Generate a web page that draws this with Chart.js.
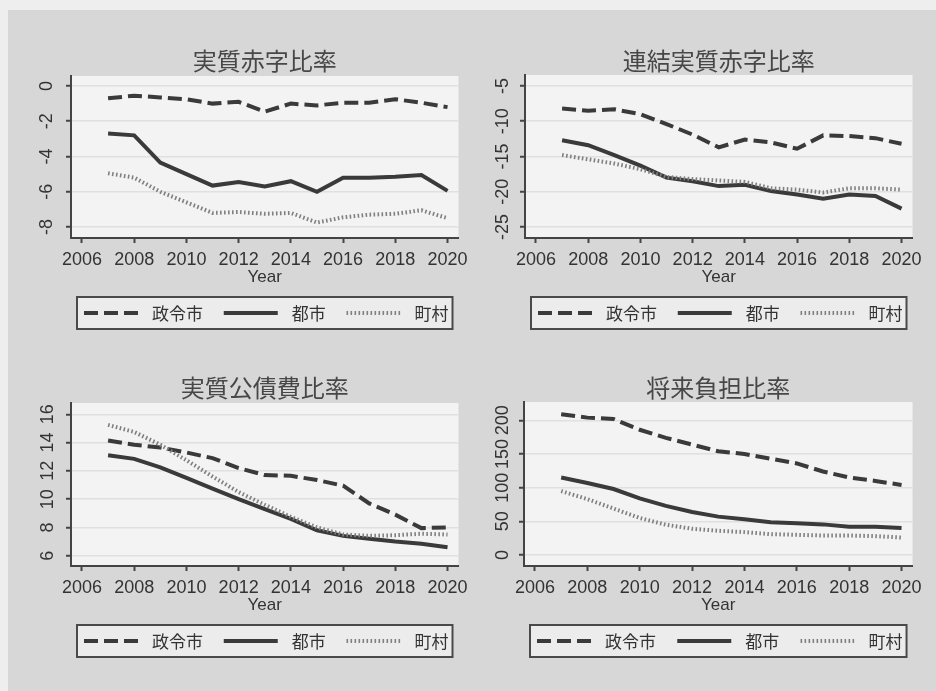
<!DOCTYPE html>
<html>
<head>
<meta charset="utf-8">
<script src="https://cdn.jsdelivr.net/npm/chart.js@4/dist/chart.umd.min.js"></script>
<style>
body{margin:0;width:936px;height:691px;background:#eeeeee;position:relative;overflow:hidden}
#frame{position:absolute;left:8px;top:10px;right:0;bottom:0;background:#d7d7d7}
canvas{position:absolute}
</style>
</head>
<body>
<div id="frame"></div>
<canvas id="c1" width="466" height="320" style="left:8px;top:20px"></canvas>
<canvas id="c2" width="452" height="320" style="left:476px;top:20px"></canvas>
<canvas id="c3" width="466" height="320" style="left:8px;top:345px"></canvas>
<canvas id="c4" width="452" height="320" style="left:476px;top:345px"></canvas>
<script>
const years=[2007,2008,2009,2010,2011,2012,2013,2014,2015,2016,2017,2018,2019,2020];
const xTicks=[2006,2008,2010,2012,2014,2016,2018,2020];
const names=["政令市","都市","町村"];

// 実質赤字比率
const akajiTicks=[0,-2,-4,-6,-8];
const akajiSeirei=[-0.7,-0.55,-0.65,-0.75,-1.0,-0.9,-1.45,-1.0,-1.1,-0.95,-0.95,-0.75,-0.95,-1.2];
const akajiToshi=[-2.7,-2.8,-4.35,-5.0,-5.65,-5.45,-5.7,-5.4,-6.0,-5.2,-5.2,-5.15,-5.05,-5.95];
const akajiChoson=[-4.95,-5.2,-6.0,-6.6,-7.2,-7.15,-7.25,-7.2,-7.75,-7.45,-7.3,-7.25,-7.05,-7.5];

// 連結実質赤字比率
const renketsuTicks=[-5,-10,-15,-20,-25];
const renketsuSeirei=[-8.2,-8.5,-8.3,-9.0,-10.4,-11.9,-13.7,-12.6,-13.0,-13.9,-12.0,-12.1,-12.4,-13.2];
const renketsuToshi=[-12.7,-13.4,-14.8,-16.3,-18.0,-18.5,-19.2,-19.0,-19.9,-20.4,-21.0,-20.4,-20.6,-22.4];
const renketsuChoson=[-14.8,-15.4,-16.0,-16.8,-17.9,-18.2,-18.4,-18.6,-19.5,-19.7,-20.1,-19.5,-19.5,-19.7];

// 実質公債費比率
const kosaiTicks=[6,8,10,12,14,16];
const kosaiSeirei=[14.15,13.85,13.65,13.3,12.9,12.2,11.7,11.65,11.35,10.95,9.7,8.9,7.95,8.0];
const kosaiToshi=[13.1,12.85,12.25,11.5,10.75,10.0,9.3,8.6,7.8,7.4,7.2,7.0,6.85,6.6];
const kosaiChoson=[15.25,14.75,13.85,12.75,11.6,10.5,9.6,8.75,8.0,7.5,7.4,7.45,7.55,7.5];

// 将来負担比率
const futanTicks=[0,50,100,150,200];
const futanSeirei=[209,204,202,186,174,164,154,150,143,136,124,115,110,104];
const futanToshi=[115,107,98,84,73,64,57,53,48.5,47,45.5,42,42,40];
const futanChoson=[95,83,69,55,45,39,36,34,31,30,29,29,28,26];

Chart.defaults.font.family="'Liberation Sans', 'Noto Sans CJK JP', sans-serif";
Chart.defaults.color="#333333";

const ink="#3a3a3a";
const styles=[
    {borderColor:ink,borderWidth:4,borderDash:[14,6],order:3},
    {borderColor:ink,borderWidth:4,borderDash:[],order:2},
    {borderColor:"#808080",borderWidth:4,borderDash:[1.6,2.4],order:1}
];

// light fill behind the plot region
const plotBg={
    id:"plotBg",
    beforeDraw(chart){
        let a=chart.chartArea, ctx=chart.ctx;
        ctx.save();
        ctx.fillStyle="#f3f3f3";
        ctx.fillRect(a.left,a.top,a.right-a.left,a.bottom-a.top);
        ctx.restore();
    }
};

// framed legend row under the x axis title
const boxLegend={
    id:"boxLegend",
    afterDraw(chart){
        let a=chart.chartArea, ctx=chart.ctx;
        let x=a.left+6, w=a.right-a.left-12, y=a.bottom+59, h=32;
        ctx.save();
        ctx.fillStyle="#ececec";
        ctx.fillRect(x,y,w,h);
        ctx.strokeStyle="#4a4a4a";
        ctx.lineWidth=2;
        ctx.strokeRect(x,y,w,h);
        ctx.font="17px 'Noto Sans CJK JP', sans-serif";
        ctx.textBaseline="middle";
        const sample=54, gap=14;
        let sets=chart.data.datasets;
        let widths=sets.map(ds=>sample+gap+ctx.measureText(ds.label).width);
        let total=widths.reduce((s,v)=>s+v,0);
        let space=(w-11-total)/(sets.length-1);
        let cx=x+7, cy=y+h/2;
        sets.forEach((ds,i)=>{
            ctx.beginPath();
            ctx.setLineDash(ds.borderDash);
            ctx.strokeStyle=ds.borderColor;
            ctx.lineWidth=ds.borderWidth;
            ctx.moveTo(cx,cy);
            ctx.lineTo(cx+sample,cy);
            ctx.stroke();
            ctx.setLineDash([]);
            ctx.fillStyle="#333333";
            ctx.fillText(ds.label,cx+sample+gap,cy+1);
            cx+=widths[i]+space;
        });
        ctx.restore();
    }
};

function draw(id,title,series,yTicks,yMin,yMax,lay){
    let ctx=document.getElementById(id);
    let datasets=series.map((vals,i)=>Object.assign({
        label:names[i],
        data:vals.map((v,j)=>({x:years[j],y:v})),
        pointRadius:0,
        tension:0,
        fill:false,
        borderCapStyle:"butt"
    },styles[i]));

    return new Chart(ctx,{
        type:"line",
        data:{datasets:datasets},
        plugins:[plotBg,boxLegend],
        options:{
            responsive:false,
            animation:false,
            devicePixelRatio:1,
            layout:{padding:{left:0,right:14,top:0,bottom:lay.padBottom}},
            plugins:{
                legend:{display:false},
                tooltip:{enabled:false},
                title:{
                    display:true,
                    text:title,
                    fullSize:false,
                    color:"#474747",
                    font:{size:24,weight:"normal",lineHeight:1},
                    padding:{top:lay.titleTop,bottom:lay.titleBottom}
                }
            },
            scales:{
                x:{
                    type:"linear",
                    min:2005.58,
                    max:2020.42,
                    afterBuildTicks:s=>{s.ticks=xTicks.map(v=>({value:v}));},
                    afterFit:s=>{s.height=50;},
                    ticks:{autoSkip:false,maxRotation:0,padding:6,font:{size:18},callback:v=>String(v)},
                    grid:{drawOnChartArea:false,tickLength:5,tickColor:"#444",tickWidth:2},
                    border:{color:"#444",width:2},
                    title:{display:true,text:"Year",font:{size:17},padding:0}
                },
                y:{
                    type:"linear",
                    min:yMin,
                    max:yMax,
                    afterBuildTicks:s=>{s.ticks=yTicks.map(v=>({value:v}));},
                    afterFit:s=>{s.width=lay.yWidth;},
                    ticks:{autoSkip:false,minRotation:90,maxRotation:90,crossAlign:"center",padding:lay.tickPad,font:{size:18},callback:v=>String(v)},
                    grid:{color:"#e0e0e0",lineWidth:1.5,tickLength:5,tickColor:"#444",tickWidth:2},
                    border:{color:"#444",width:2}
                }
            }
        }
    });
}

draw("c1","実質赤字比率",[akajiSeirei,akajiToshi,akajiChoson],akajiTicks,-8.624,0.567,
    {yWidth:63,tickPad:11,titleTop:31,titleBottom:1,padBottom:52});
draw("c2","連結実質赤字比率",[renketsuSeirei,renketsuToshi,renketsuChoson],renketsuTicks,-26.56,-3.44,
    {yWidth:49,tickPad:3.5,titleTop:31,titleBottom:0,padBottom:52});
draw("c3","実質公債費比率",[kosaiSeirei,kosaiToshi,kosaiChoson],kosaiTicks,5.27,16.8,
    {yWidth:63,tickPad:8,titleTop:33,titleBottom:1,padBottom:49});
draw("c4","将来負担比率",[futanSeirei,futanToshi,futanChoson],futanTicks,-16.3,227.2,
    {yWidth:48,tickPad:0.5,titleTop:33,titleBottom:0,padBottom:49});
</script>
</body>
</html>
